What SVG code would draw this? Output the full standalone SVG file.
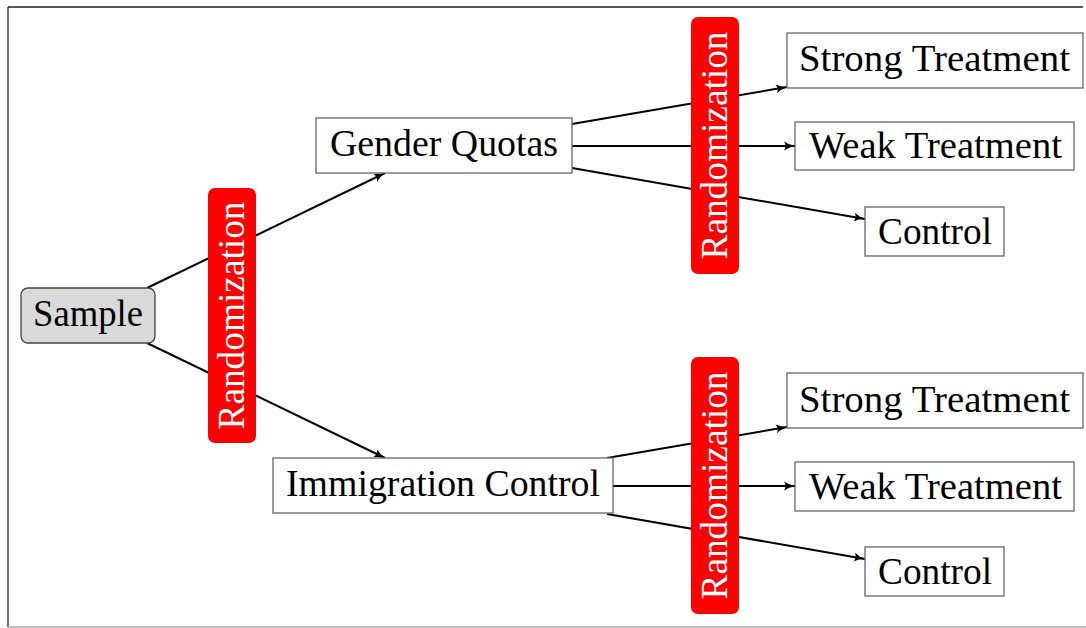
<svg xmlns="http://www.w3.org/2000/svg" width="1086" height="628" viewBox="0 0 1086 628">
<defs>
<marker id="arr" viewBox="0 0 12 10" refX="11" refY="5" markerWidth="12" markerHeight="10" markerUnits="userSpaceOnUse" orient="auto">
<path d="M0,0.5 Q5,4 11.5,5 Q5,6 0,9.5 Q3,5 0,0.5 z" fill="#000"/>
</marker>
<style>
.box{fill:#fff;stroke:#666;stroke-width:1.3}
.t{font-family:"Liberation Serif","DejaVu Serif",serif;font-size:37px;fill:#000}
.rand{fill:#ff0000}
.rt{font-family:"Liberation Serif","DejaVu Serif",serif;font-size:37px;fill:#fff;text-anchor:middle}
.e{stroke:#000;stroke-width:2;fill:none}
</style>
</defs>
<g id="frame">
<line x1="8" y1="7" x2="1083" y2="7" stroke="#222" stroke-width="1.3"/>
<line x1="8" y1="7" x2="8" y2="627" stroke="#222" stroke-width="1.3"/>
<line x1="8" y1="627" x2="1086" y2="627" stroke="#aaa" stroke-width="1.3"/>
</g>
<g id="connectors">
<line class="e" x1="147" y1="288" x2="385" y2="173" marker-end="url(#arr)"/>
<line class="e" x1="147" y1="343" x2="385" y2="458" marker-end="url(#arr)"/>
<line class="e" x1="572" y1="124" x2="787" y2="87" marker-end="url(#arr)"/>
<line class="e" x1="572" y1="146" x2="795" y2="146" marker-end="url(#arr)"/>
<line class="e" x1="572" y1="168" x2="865" y2="219" marker-end="url(#arr)"/>
<line class="e" x1="607" y1="458" x2="787" y2="427" marker-end="url(#arr)"/>
<line class="e" x1="613" y1="486" x2="795" y2="486" marker-end="url(#arr)"/>
<line class="e" x1="607" y1="514" x2="865" y2="559" marker-end="url(#arr)"/>
</g>
<g id="sample">
<rect x="21" y="288" width="134" height="55" rx="7" fill="#d9d9d9" stroke="#444" stroke-width="1.3"/>
<text class="t" x="33" y="326" textLength="110" lengthAdjust="spacingAndGlyphs">Sample</text>
</g>
<g id="rand1">
<rect class="rand" x="208" y="188" width="48" height="255" rx="7"/>
<text class="rt" transform="translate(244,315.5) rotate(-90)" textLength="228" lengthAdjust="spacingAndGlyphs">Randomization</text>
</g>
<g id="gender">
<rect class="box" x="316" y="118" width="256" height="55"/>
<text class="t" x="330" y="156" textLength="228" lengthAdjust="spacingAndGlyphs">Gender Quotas</text>
</g>
<g id="immigration">
<rect class="box" x="273" y="458" width="340" height="55"/>
<text class="t" x="286" y="496" textLength="314" lengthAdjust="spacingAndGlyphs">Immigration Control</text>
</g>
<g id="rand2">
<rect class="rand" x="691" y="17" width="48" height="257" rx="7"/>
<text class="rt" transform="translate(727,145.5) rotate(-90)" textLength="228" lengthAdjust="spacingAndGlyphs">Randomization</text>
</g>
<g id="rand3">
<rect class="rand" x="691" y="357" width="48" height="257" rx="7"/>
<text class="rt" transform="translate(727,485.5) rotate(-90)" textLength="228" lengthAdjust="spacingAndGlyphs">Randomization</text>
</g>
<g id="strong1">
<rect class="box" x="787" y="33" width="296" height="55"/>
<text class="t" x="799" y="71" textLength="271" lengthAdjust="spacingAndGlyphs">Strong Treatment</text>
</g>
<g id="weak1">
<rect class="box" x="795" y="122" width="279" height="48"/>
<text class="t" x="809" y="158" textLength="253" lengthAdjust="spacingAndGlyphs">Weak Treatment</text>
</g>
<g id="control1">
<rect class="box" x="865" y="207" width="139" height="49"/>
<text class="t" x="878" y="244" textLength="114" lengthAdjust="spacingAndGlyphs">Control</text>
</g>
<g id="strong2">
<rect class="box" x="787" y="373" width="296" height="55"/>
<text class="t" x="799" y="412" textLength="271" lengthAdjust="spacingAndGlyphs">Strong Treatment</text>
</g>
<g id="weak2">
<rect class="box" x="795" y="462" width="279" height="49"/>
<text class="t" x="809" y="499" textLength="253" lengthAdjust="spacingAndGlyphs">Weak Treatment</text>
</g>
<g id="control2">
<rect class="box" x="865" y="547" width="139" height="49"/>
<text class="t" x="878" y="584" textLength="114" lengthAdjust="spacingAndGlyphs">Control</text>
</g>
</svg>
